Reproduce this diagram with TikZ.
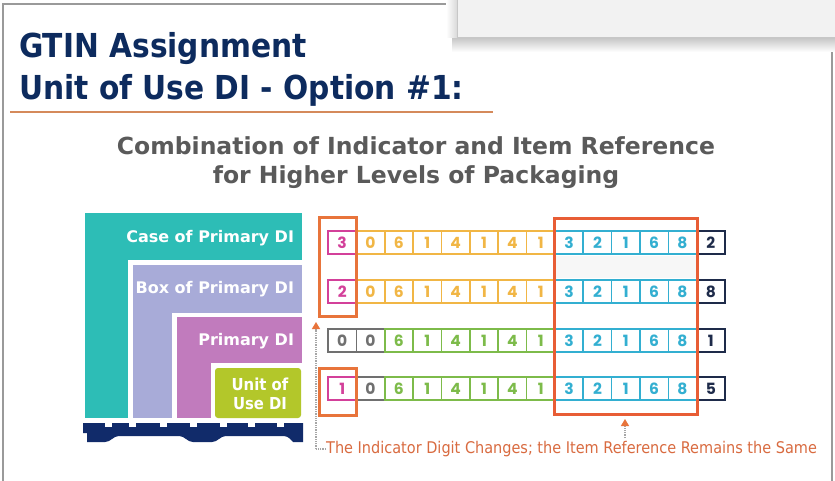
\documentclass[tikz,border=0pt]{standalone}
\usepackage{fontspec}
\setmainfont{DejaVu Sans}
\newfontfamily\condfont{DejaVu Sans Condensed}
\newfontfamily\digitfont{Poppins}
\usetikzlibrary{arrows.meta}
\definecolor{titlenavy}{HTML}{0D2B5E}
\definecolor{ruleor}{HTML}{D58A5B}
\definecolor{subgrey}{HTML}{5A5A5A}
\definecolor{teal}{HTML}{2DBDB6}
\definecolor{lav}{HTML}{A8ABD8}
\definecolor{purp}{HTML}{C17BBD}
\definecolor{lime}{HTML}{B3C72A}
\definecolor{pallet}{HTML}{112B6A}
\definecolor{pk}{HTML}{D3409A}
\definecolor{yl}{HTML}{F1B645}
\definecolor{gn}{HTML}{7DBB4A}
\definecolor{bl}{HTML}{33AFD1}
\definecolor{nv}{HTML}{1E2B4A}
\definecolor{gy}{HTML}{707070}
\definecolor{hiOr}{HTML}{E8743B}
\definecolor{hiRed}{HTML}{E85D35}
\definecolor{noteRed}{HTML}{D96B40}
\definecolor{frame}{HTML}{9A9A9A}
\tikzset{
  cell/.style={rectangle, minimum width=28.36pt, minimum height=23pt, inner sep=0pt,
    line width=1.6pt, font=\digitfont\bfseries\fontsize{15.5}{15.5}\selectfont},
  boxlabel/.style={anchor=east, text=white, font=\bfseries\fontsize{16}{16}\selectfont},
  hibox/.style={line width=3pt},
  dotline/.style={densely dotted, line width=1.3pt, draw=gray!70},
  uptip/.style={-{Triangle[width=8pt,length=7pt,color=hiOr]}}
}
\begin{document}
\begin{tikzpicture}[x=1pt,y=-1pt]
\useasboundingbox (0,0) rectangle (835,481);
\fill[white] (0,0) rectangle (835,481);
% frame
\draw[frame, line width=1.2pt] (3,481) -- (3,4) -- (457,4);
\draw[frame, line width=1.2pt] (832,38) -- (832,481);
% popup
\shade[top color=black!22, bottom color=white] (452,38) rectangle (835,52);
\shade[left color=white, right color=black!15] (446,0) rectangle (457,38);
\fill[black!5] (457,-2) rectangle (837,38);
\draw[black!22, line width=1pt] (457,-2) -- (457,38) -- (837,38);
% titles
\node[anchor=base west, inner sep=0, text=titlenavy, font=\condfont\bfseries\fontsize{33}{33}\selectfont] (t1) at (19,58) {GTIN Assignment};
\node[anchor=base west, inner sep=0, text=titlenavy, font=\condfont\bfseries\fontsize{33}{33}\selectfont] (t2) at (19,100) {Unit of Use DI - Option \#1:};
\draw[ruleor, line width=2.6pt] (10,112) -- (493,112);
\node[anchor=base, inner sep=0, text=subgrey, font=\bfseries\fontsize{23.5}{23.5}\selectfont] (s1) at (416,155) {Combination of Indicator and Item Reference};
\node[anchor=base, inner sep=0, text=subgrey, font=\bfseries\fontsize{23.5}{23.5}\selectfont] (s2) at (416,184) {for Higher Levels of Packaging};
% nested packaging
\fill[teal] (85,213) rectangle (302,418);
\fill[white] (128,260) rectangle (302,418);
\fill[lav] (133,265) rectangle (302,418);
\fill[white] (172,313) rectangle (302,418);
\fill[purp] (177,317) rectangle (302,418);
\fill[white] (211,363) rectangle (302,418);
\fill[lime, rounded corners=3pt] (215,368) rectangle (301,418);
\node[boxlabel] (lcase) at (297.5,238) {Case of Primary DI};
\node[boxlabel] (lbox) at (297.5,289) {Box of Primary DI};
\node[boxlabel] (lprim) at (297.5,341) {Primary DI};
\node[boxlabel, align=center, font=\condfont\bfseries\fontsize{16.5}{18.5}\selectfont, anchor=center] (lunit) at (260,394) {Unit of\\Use DI};
% pallet
\fill[pallet] (83,423) -- (303,423) -- (303,442) -- (293,442)
  .. controls (288,436) and (286,436) .. (281,436) -- (226,436)
  .. controls (220,436) and (218,442) .. (212,442) -- (193,442)
  .. controls (187,442) and (185,436) .. (179,436) -- (119,436)
  .. controls (113,436) and (111,442) .. (105,442) -- (87,442) -- (87,433) -- (83,433) -- cycle;
\foreach \nx in {105,129,160,190,220,248,277}
  \fill[white] (\nx,422) rectangle (\nx+7,427);
% faint band between the first two rows in the reference block
\fill[black!3] (556,256) rectangle (696,278);
% digit rows
\foreach \d/\col [count=\c] in {3/pk,0/yl,6/yl,1/yl,4/yl,1/yl,4/yl,1/yl,3/bl,2/bl,1/bl,6/bl,8/bl,2/nv}
  \node[cell, draw=\col, text=\col] (ra\c) at (328+\c*28.36-14.18,242.5) {\d};
\foreach \d/\col [count=\c] in {2/pk,0/yl,6/yl,1/yl,4/yl,1/yl,4/yl,1/yl,3/bl,2/bl,1/bl,6/bl,8/bl,8/nv}
  \node[cell, draw=\col, text=\col] (rb\c) at (328+\c*28.36-14.18,291.5) {\d};
\foreach \d/\col [count=\c] in {0/gy,0/gy,6/gn,1/gn,4/gn,1/gn,4/gn,1/gn,3/bl,2/bl,1/bl,6/bl,8/bl,1/nv}
  \node[cell, draw=\col, text=\col] (rc\c) at (328+\c*28.36-14.18,340.5) {\d};
\foreach \d/\col [count=\c] in {1/pk,0/gy,6/gn,1/gn,4/gn,1/gn,4/gn,1/gn,3/bl,2/bl,1/bl,6/bl,8/bl,5/nv}
  \node[cell, draw=\col, text=\col] (rd\c) at (328+\c*28.36-14.18,388.5) {\d};
% highlight boxes
\draw[hiOr, hibox] (319,218) rectangle (356,316);
\draw[hiOr, hibox] (319,368) rectangle (356,415);
\draw[hiRed, hibox] (554,219) rectangle (697,414);
% note
\node[anchor=west, inner sep=0, text=noteRed, font=\condfont\fontsize{16.1}{16.1}\selectfont] (note) at (326,449) {The Indicator Digit Changes; the Item Reference Remains the Same};
\coordinate (lbot) at (316,449);
\coordinate (ltop) at (316,322);
\draw[dotline] (note.west) -- (lbot);
\draw[dotline, uptip] (lbot) -- (ltop);
\coordinate (mbot) at (625,438);
\coordinate (mtop) at (625,419);
\draw[dotline, uptip] (mbot) -- (mtop);
\end{tikzpicture}
\end{document}
